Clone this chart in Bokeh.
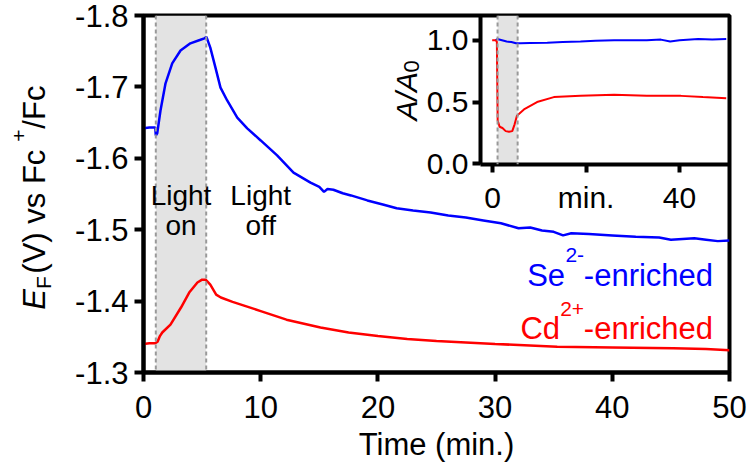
from bokeh.plotting import figure
from bokeh.models import Range1d, Label, BoxAnnotation, Span, FixedTicker
from bokeh.layouts import column
from bokeh.embed import file_html
from bokeh.resources import INLINE

# ---------------- data ----------------
light_on = 1.05
light_off = 5.35

t_se = [0, 0.5, 1.0, 1.05, 1.17, 1.45, 1.88, 2.45, 3.16, 4.0, 4.86, 5.2, 5.37, 5.7,
        6.14, 6.57, 7.14, 8.0, 8.85, 10.0, 11.4, 12.8, 14.25, 15.0, 15.4, 15.7, 16.2,
        17.0, 17.7, 19.1, 20.5, 21.6, 23, 24.5, 26, 27.5, 29, 30.5, 32, 33, 34, 35,
        35.8, 36.5, 38, 40, 42, 44, 45, 46, 47, 48, 49, 50]
ef_se = [-1.642, -1.643, -1.643, -1.632, -1.635, -1.667, -1.705, -1.733, -1.751, -1.761,
         -1.766, -1.768, -1.770, -1.755, -1.727, -1.699, -1.681, -1.657, -1.642, -1.625,
         -1.604, -1.580, -1.566, -1.560, -1.553, -1.557, -1.556, -1.551, -1.548, -1.541,
         -1.535, -1.530, -1.527, -1.524, -1.520, -1.517, -1.513, -1.509, -1.502, -1.503,
         -1.499, -1.497, -1.492, -1.495, -1.494, -1.492, -1.490, -1.489, -1.486, -1.487,
         -1.488, -1.486, -1.484, -1.485]

t_cd = [0, 0.5, 1.0, 1.2, 1.4, 1.6, 2.3, 3.2, 3.9, 4.6, 5.0, 5.3, 5.7, 6.2, 6.6, 7.6,
        10, 12.2, 15.1, 17.5, 20, 22.5, 25, 27.5, 30, 35.3, 40, 45.2, 48, 50]
ef_cd = [-1.340, -1.341, -1.341, -1.343, -1.351, -1.356, -1.367, -1.391, -1.412, -1.426,
         -1.430, -1.430, -1.423, -1.409, -1.405, -1.399, -1.386, -1.374, -1.363, -1.356,
         -1.351, -1.347, -1.344, -1.342, -1.340, -1.336, -1.335, -1.334, -1.333, -1.331]

t_in_se = [0.6, 1.0, 2.0, 3.0, 4.0, 5.0, 6.0, 8.0, 11.7, 15, 18.8, 22, 26, 30, 33, 36,
           38, 40, 44, 47, 50]
a_se = [1.00, 1.01, 1.00, 0.99, 0.985, 0.975, 0.975, 0.978, 0.98, 0.985, 0.99, 0.995,
        1.0, 1.0, 1.0, 1.005, 0.99, 1.0, 1.01, 1.005, 1.01]

t_in_cd = [-0.1, 0.6, 0.9, 1.07, 1.5, 2.1, 2.8, 3.5, 4.2, 4.7, 5.2, 6.7, 9.5, 13.1,
           18.8, 26, 33, 40.3, 45, 50]
a_cd = [1.0, 1.0, 0.99, 0.35, 0.30, 0.29, 0.265, 0.26, 0.265, 0.32, 0.39, 0.44, 0.50,
        0.54, 0.55, 0.56, 0.55, 0.55, 0.54, 0.53]

x_ticks = [0, 10, 20, 30, 40, 50]
y_ticks = [-1.3, -1.4, -1.5, -1.6, -1.7, -1.8]
y_tick_labels = ["-1.3", "-1.4", "-1.5", "-1.6", "-1.7", "-1.8"]
in_x_ticks = [0, 20, 40]
in_x_labels = ["0", "min.", "40"]
in_y_ticks = [0.0, 0.5, 1.0]
in_y_labels = ["0.0", "0.5", "1.0"]

FONT = "Liberation Sans"
BLUE = "#0000ff"
RED = "#ff0000"
SHADE = "#e3e3e3"
DASH = "#999999"

# layout geometry (pixels)
LB, TB, RB, BB = 143, 15, 21, 95      # main plot borders (shared left/right by the column)
FW, FH = 586, 357                     # main frame

# ---------------- main figure ----------------
p = figure(frame_width=FW, frame_height=FH, output_backend="svg", toolbar_location=None,
           x_range=Range1d(0, 50), y_range=Range1d(-1.3, -1.8),
           min_border_left=LB, min_border_top=TB, min_border_right=RB, min_border_bottom=BB)
p.background_fill_alpha = 0
p.border_fill_alpha = 0
p.grid.visible = False
p.outline_line_color = "black"
p.outline_line_width = 4

p.add_layout(BoxAnnotation(left=light_on, right=light_off, fill_color=SHADE, fill_alpha=1,
                           line_color=None, level="underlay"))
p.line(t_cd, ef_cd, line_color=RED, line_width=2.5)
p.line(t_se, ef_se, line_color=BLUE, line_width=2.5)
for loc in (light_on, light_off):
    p.add_layout(Span(location=loc, dimension="height", line_color=DASH, line_width=2,
                      line_dash="4 3"))

for ax in (p.xaxis[0], p.yaxis[0]):
    ax.axis_line_width = 4
    ax.major_tick_line_width = 4
    ax.major_tick_out = 9
    ax.major_tick_in = 0
    ax.minor_tick_line_color = None
    ax.major_label_text_font = FONT
    ax.major_label_text_font_size = "31px"
    ax.major_label_text_color = "black"
p.xaxis.ticker = FixedTicker(ticks=x_ticks)
p.yaxis.ticker = FixedTicker(ticks=y_ticks)
p.yaxis.major_label_overrides = dict(zip(y_ticks, y_tick_labels))
p.xaxis.major_label_standoff = 14
p.yaxis.major_label_standoff = 6
p.xaxis.axis_label = "Time (min.)"
p.xaxis.axis_label_text_font = FONT
p.xaxis.axis_label_text_font_size = "31px"
p.xaxis.axis_label_text_font_style = "normal"
p.xaxis.axis_label_text_color = "black"
p.xaxis.axis_label_standoff = 6


def lab(fig, x, y, text, size, color="black", style="normal", align="left",
        dx=0, dy=0, angle=0):
    fig.add_layout(Label(x=x, y=y, text=text, text_font=FONT, text_font_size=size,
                         text_font_style=style, text_color=color, text_align=align,
                         text_baseline="alphabetic", x_offset=dx, y_offset=dy,
                         angle=angle, angle_units="deg"))


# Light on / Light off
lab(p, 3.2, -1.548, "Light", "28px", align="center")
lab(p, 3.2, -1.506, "on", "28px", align="center")
lab(p, 10.0, -1.548, "Light", "28px", align="center")
lab(p, 10.0, -1.506, "off", "28px", align="center")

# Series labels
lab(p, 48.6, -1.436, "-enriched", "31px", color=BLUE, align="right")
lab(p, 48.6, -1.436, "2-", "21px", color=BLUE, align="right", dx=-129, dy=20)
lab(p, 48.6, -1.436, "Se", "31px", color=BLUE, align="right", dx=-148)
lab(p, 48.6, -1.362, "-enriched", "31px", color=RED, align="right")
lab(p, 48.6, -1.362, "2+", "21px", color=RED, align="right", dx=-129, dy=19)
lab(p, 48.6, -1.362, "Cd", "31px", color=RED, align="right", dx=-153)

# ---------------- inset ----------------
IFW, IFH, IBB = 249, 149, 75
ins = figure(frame_width=IFW, frame_height=IFH, output_backend="svg", toolbar_location=None,
             x_range=Range1d(-2.6, 50.7), y_range=Range1d(-0.005, 1.2),
             min_border_left=LB, min_border_top=0, min_border_right=RB, min_border_bottom=IBB)
ins.background_fill_alpha = 0
ins.border_fill_alpha = 0
ins.grid.visible = False
ins.outline_line_color = None
ins.add_layout(BoxAnnotation(left=light_on, right=light_off, fill_color=SHADE, fill_alpha=1,
                             line_color=None, level="underlay"))
ins.line(t_in_se, a_se, line_color=BLUE, line_width=2)
ins.line(t_in_cd, a_cd, line_color=RED, line_width=2)
for loc in (light_on, light_off):
    ins.add_layout(Span(location=loc, dimension="height", line_color=DASH, line_width=2,
                        line_dash="4 3"))
for ax in (ins.xaxis[0], ins.yaxis[0]):
    ax.axis_line_width = 4
    ax.major_tick_line_width = 4
    ax.major_tick_out = 8
    ax.major_tick_in = 0
    ax.minor_tick_line_color = None
    ax.major_label_text_font = FONT
    ax.major_label_text_font_size = "30px"
    ax.major_label_text_color = "black"
ins.xaxis.ticker = FixedTicker(ticks=in_x_ticks)
ins.xaxis.major_label_overrides = dict(zip(in_x_ticks, in_x_labels))
ins.yaxis.ticker = FixedTicker(ticks=in_y_ticks)
ins.yaxis.major_label_overrides = dict(zip(in_y_ticks, in_y_labels))
ins.xaxis.major_label_standoff = 8
ins.yaxis.major_label_standoff = 4

# ---------------- text overlay (axis titles with sub/superscripts) ----------------
OW, OH = 480, 372
ov = figure(frame_width=OW, frame_height=OH, output_backend="svg", toolbar_location=None,
            x_range=Range1d(-LB / (FW / 50), (OW - LB) / (FW / 50)),
            y_range=Range1d(-1.3, -1.3 - OH / (FH / 0.5)),
            x_axis_type=None, y_axis_type=None,
            min_border_left=LB, min_border_top=0, min_border_right=RB, min_border_bottom=0)
ov.background_fill_alpha = 0
ov.border_fill_alpha = 0
ov.grid.visible = False
ov.outline_line_color = None

# y axis title: E_F (V) vs Fc+/Fc (rotated)
yx, yy = -9.3, -1.388
lab(ov, yx, yy, "E", "31px", style="italic", angle=90)
lab(ov, yx, yy, "F", "21px", dx=9, dy=20.7, angle=90)
lab(ov, yx, yy, " (V) vs Fc", "31px", dy=36, angle=90)
lab(ov, yx, yy, "+", "21px", dx=-16, dy=168, angle=90)
lab(ov, yx, yy, "/Fc", "31px", dy=181, angle=90)

# inset y title: A/A0 (rotated)
ax_x, ax_y = 22.44, -1.653
lab(ov, ax_x, ax_y, "A/A", "30px", style="italic", angle=90)
lab(ov, ax_x, ax_y, "0", "22px", dx=5, dy=48, angle=90)

# stack with overlaps
H1 = TB + FH + BB
ins.margin = (TB - H1, 0, 0, 480 - LB)
H2 = IFH + IBB
ov.margin = (-(TB + H2), 0, H1 - OH, -LB)

layout = column(p, ins, ov, spacing=0)
open("out.html", "w").write(file_html(layout, INLINE))
